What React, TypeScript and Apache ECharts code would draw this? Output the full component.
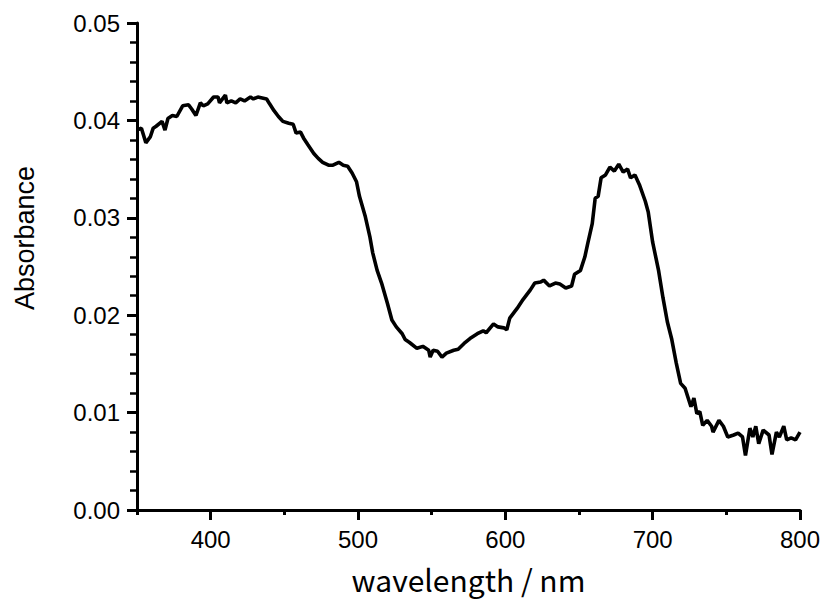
import React, { useEffect, useRef } from "react";
import * as echarts from "echarts";

const wavelength = [
  350, 353, 356, 359, 361, 363, 367, 369, 371, 374, 377, 381, 385, 387, 390, 393, 395, 398,
  402, 405, 406, 410, 411, 414, 417, 420, 423, 427, 429, 432, 435, 438, 440, 443, 446, 449,
  453, 456, 458, 461, 463, 466, 470, 473, 476, 480, 483, 487, 490, 493, 496, 499, 501, 505,
  508, 510, 513, 516, 520, 523, 526, 530, 532, 535, 540, 544, 548, 549, 551, 554, 557, 560,
  565, 568, 572, 576, 581, 585, 587, 592, 595, 599, 601, 603, 608, 612, 617, 620, 624, 626,
  630, 634, 637, 641, 645, 647, 651, 654, 656, 659, 661, 663, 665, 668, 671, 674, 677, 680,
  683, 685, 688, 691, 695, 697, 700, 704, 707, 710, 713, 716, 719, 722, 726, 728, 730, 732,
  734, 737, 740, 741, 745, 748, 751, 755, 758, 761, 763, 766, 768, 770, 772, 775, 779, 781,
  784, 786, 789, 791, 794, 797, 800,
];

const absorbance = [
  0.0390, 0.0392, 0.0377, 0.0383, 0.0392, 0.0394, 0.0399, 0.0390, 0.0402, 0.0405, 0.0404, 0.0415,
  0.0416, 0.0412, 0.0405, 0.0418, 0.0415, 0.0417, 0.0424, 0.0424, 0.0418, 0.0426, 0.0418, 0.0420,
  0.0418, 0.0422, 0.0420, 0.0424, 0.0422, 0.0424, 0.0423, 0.0422, 0.0417, 0.0410, 0.0404, 0.0399,
  0.0397, 0.0396, 0.0387, 0.0388, 0.0382, 0.0375, 0.0366, 0.0361, 0.0357, 0.0354, 0.0354, 0.0357,
  0.0354, 0.0353, 0.0346, 0.0337, 0.0322, 0.0301, 0.0281, 0.0264, 0.0246, 0.0233, 0.0212, 0.0195,
  0.0188, 0.0181, 0.0175, 0.0172, 0.0166, 0.0168, 0.0164, 0.0157, 0.0164, 0.0163, 0.0157, 0.0161,
  0.0164, 0.0165, 0.0171, 0.0176, 0.0181, 0.0184, 0.0182, 0.0191, 0.0188, 0.0187, 0.0185, 0.0197,
  0.0207, 0.0216, 0.0226, 0.0233, 0.0234, 0.0236, 0.0230, 0.0233, 0.0232, 0.0228, 0.0230, 0.0242,
  0.0246, 0.0260, 0.0274, 0.0294, 0.0320, 0.0322, 0.0341, 0.0344, 0.0352, 0.0348, 0.0355, 0.0347,
  0.0350, 0.0341, 0.0344, 0.0334, 0.0317, 0.0306, 0.0275, 0.0246, 0.0218, 0.0193, 0.0175, 0.0151,
  0.0130, 0.0125, 0.0106, 0.0115, 0.0099, 0.0101, 0.0087, 0.0092, 0.0086, 0.0080, 0.0092, 0.0086,
  0.0075, 0.0077, 0.0079, 0.0075, 0.0056, 0.0084, 0.0075, 0.0086, 0.0068, 0.0082, 0.0077, 0.0057,
  0.0080, 0.0075, 0.0086, 0.0072, 0.0074, 0.0072, 0.0080,
];

const xMajorTicks = [400, 500, 600, 700, 800];
const xMinorTicks = [350, 450, 550, 650, 750];
const xTitle = "wavelength / nm";
const yTitle = "Absorbance";

export default function App() {
  const ref = useRef<HTMLDivElement>(null);

  useEffect(() => {
    document.body.style.margin = "0";
    if (!ref.current) return;
    const chart = echarts.init(ref.current, undefined, { renderer: "svg" });
    const data = wavelength.map((w, i) => [w, absorbance[i]]);
    const labelFont = "'Liberation Sans', Arial, sans-serif";
    chart.setOption({
      animation: false,
      backgroundColor: "#ffffff",
      grid: { left: 137, right: 23, top: 23, bottom: 91, containLabel: false },
      graphic: [
        {
          type: "text",
          x: 25,
          y: 238,
          rotation: Math.PI / 2,
          style: {
            text: yTitle,
            fontSize: 27,
            fontFamily: labelFont,
            fill: "#000",
            align: "center",
            verticalAlign: "middle",
          },
        },
      ],
      xAxis: [
        {
          type: "value",
          min: 350,
          max: 800,
          position: "bottom",
          splitLine: { show: false },
          axisLine: { show: true, onZero: false, lineStyle: { color: "#000", width: 3 } },
          axisTick: {
            show: true,
            customValues: xMajorTicks,
            length: 10,
            lineStyle: { color: "#000", width: 3 },
          },
          axisLabel: {
            customValues: xMajorTicks,
            fontSize: 24,
            color: "#000",
            margin: 17,
            fontFamily: labelFont,
          },
          name: xTitle,
          nameLocation: "middle",
          nameGap: 54,
          nameTextStyle: {
            fontSize: 30,
            color: "#000",
            fontFamily: "'Noto Sans CJK JP', sans-serif",
            verticalAlign: "top",
          },
        },
        {
          type: "value",
          min: 350,
          max: 800,
          position: "bottom",
          splitLine: { show: false },
          axisLine: { show: false, onZero: false },
          axisTick: {
            show: true,
            customValues: xMinorTicks,
            length: 5,
            lineStyle: { color: "#000", width: 3 },
          },
          axisLabel: { show: false },
        },
      ],
      yAxis: {
        type: "value",
        min: 0,
        max: 0.05,
        interval: 0.01,
        splitLine: { show: false },
        axisLine: { show: true, lineStyle: { color: "#000", width: 3 } },
        axisTick: { show: true, length: 10, lineStyle: { color: "#000", width: 3 } },
        minorTick: { show: true, splitNumber: 5, length: 7, lineStyle: { color: "#000", width: 2.5 } },
        minorSplitLine: { show: false },
        axisLabel: {
          formatter: (v: number) => v.toFixed(2),
          fontSize: 24,
          color: "#000",
          margin: 17,
          fontFamily: labelFont,
        },
      },
      series: [
        {
          type: "line",
          data,
          xAxisIndex: 0,
          showSymbol: false,
          symbol: "none",
          lineStyle: { color: "#000", width: 3.6 },
          clip: true,
        },
      ],
    });
    return () => chart.dispose();
  }, []);

  return <div ref={ref} style={{ width: 823, height: 601 }} />;
}
